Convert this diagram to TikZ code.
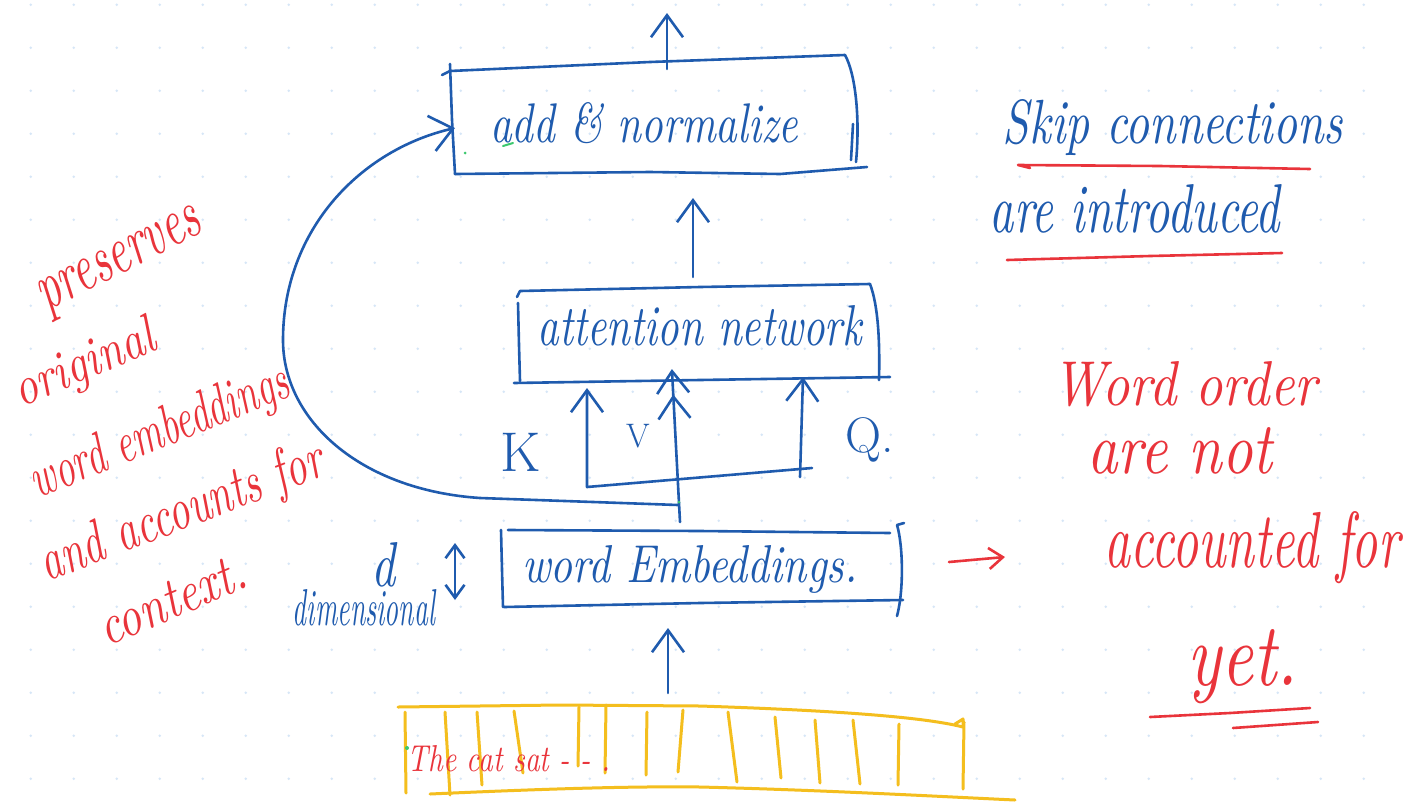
\documentclass[tikz,border=0pt]{standalone}
\usepackage{graphicx}
\usetikzlibrary{arrows.meta}

\definecolor{inkblue}{HTML}{1F5BAE}
\definecolor{inkred}{HTML}{E9343B}
\definecolor{inkyellow}{HTML}{F4BE1E}
\definecolor{inkgreen}{HTML}{3CC86E}
\definecolor{griddot}{HTML}{D6E6F7}

% handwritten-looking text stretched to a given width and ascender height
\newcommand{\hw}[3]{\resizebox{#1pt}{#2pt}{\itshape #3}}

\tikzset{
  pen/.style={line width=2.6pt, line cap=round, line join=round},
  bluepen/.style={pen, draw=inkblue},
  redpen/.style={pen, draw=inkred},
  tapepen/.style={pen, draw=inkyellow, line width=3pt},
  arr/.style={-{Straight Barb[length=22pt,width=32pt]}},
  arrV/.style={-{Straight Barb[length=22pt,width=32pt]Straight Barb[length=22pt,width=32pt,sep=-21pt]}},
  arrS/.style={-{Straight Barb[length=22pt,width=36pt]}},
  arrD/.style={{Straight Barb[length=13pt,width=19pt]}-{Straight Barb[length=13pt,width=19pt]}},
  arrR/.style={-{Straight Barb[length=14pt,width=21pt]}},
  hwtext/.style={inner sep=0pt, anchor=base},
  bluetext/.style={hwtext, text=inkblue},
  redtext/.style={hwtext, text=inkred},
}

\begin{document}
\begin{tikzpicture}[x=1pt,y=-1pt]
\useasboundingbox (0,0) rectangle (1405,801);
\fill[white] (0,0) rectangle (1405,801);

% dotted paper
\foreach \i in {0,...,32}
  \foreach \j in {0,...,18}
    \fill[griddot] ({30.7+43*\i},{4.7+43*\j}) circle (1.4);

% ---------- add & normalize ----------
\node[bluetext] (addnorm) at (644,142) {\hw{308}{40}{add \& normalize}};
\draw[bluepen] (442,75) -- (450,71) -- (650,62) -- (845,55);
\draw[bluepen] (450,64) -- (452,120) -- (455,174);
\draw[bluepen] (455,174) -- (650,172) -- (780,174) -- (867,167);
\draw[bluepen] (845,55) .. controls (856,75) and (860,120) .. (856,162);
\draw[bluepen] (853,124) -- (851,160);

% ---------- attention network ----------
\node[bluetext] (attn) at (700,345) {\hw{324}{40}{attention network}};
\draw[bluepen] (517,297) -- (520,291) -- (700,287) -- (870,284);
\draw[bluepen] (518,303) -- (519,345) -- (520,381);
\draw[bluepen] (514,383) -- (700,380) -- (890,377);
\draw[bluepen] (870,284) .. controls (878,305) and (880,340) .. (879,380);

% ---------- word embeddings ----------
\node[bluetext] (emb) at (690,582) {\hw{335}{37}{word Embeddings.}};
\draw[bluepen] (508,530) -- (700,531) -- (890,533);
\draw[bluepen] (501,530) -- (502,570) -- (503,607);
\draw[bluepen] (504,607) -- (700,603) -- (903,600);
\draw[bluepen] (904,523) -- (897,525) .. controls (903,545) and (904,590) .. (897,616);

% ---------- connectors ----------
\coordinate (a-top) at (667,69);
\coordinate (a-out) at (667,13);
\draw[bluepen,arr] (a-top) -- (a-out);

\coordinate (b-top) at (693,277);
\coordinate (a-bot) at (693,198);
\draw[bluepen,arr] (b-top) -- (a-bot);

\coordinate (k-foot) at (587,487);
\coordinate (k-in) at (587,388);
\coordinate (q-foot) at (812,468);
\draw[bluepen,arr] (q-foot) -- (k-foot) -- (k-in);

\coordinate (c-top) at (680,522);
\coordinate (v-in) at (673,390);
\draw[bluepen,arrV] (c-top) -- (v-in);

\coordinate (q-base) at (800,477);
\coordinate (q-in) at (803,377);
\draw[bluepen,arr] (q-base) -- (q-in);

% skip connection
\coordinate (skip-from) at (678,505);
\coordinate (a-left) at (455,128);
\draw[bluepen,arrS] (skip-from) -- (480,498)
  .. controls (360,490) and (283,420) .. (283,340)
  .. controls (283,230) and (360,150) .. (a-left);

\coordinate (tape-top) at (668,693);
\coordinate (c-bot) at (668,628);
\draw[bluepen,arr] (tape-top) -- (c-bot);

% d dimensional
\coordinate (d-up) at (455,543);
\coordinate (d-down) at (455,600);
\draw[bluepen,arrD] (d-up) -- (d-down);
\node[bluetext] (dlab) at (383,586) {\hw{24}{44}{d}};
\node[bluetext] (dimlab) at (364,625) {\hw{142}{36}{dimensional}};

% K V Q labels
\node[bluetext,font=\fontsize{56}{60}\selectfont] (klab) at (521,471) {K};
\node[bluetext,font=\fontsize{34}{40}\selectfont] (vlab) at (638,447) {V};
\node[bluetext,font=\fontsize{50}{56}\selectfont] (qlab) at (870,452) {Q.};

% ---------- token tape ----------
\draw[tapepen] (398,707) -- (560,705) -- (700,706) .. controls (820,710) and (920,716) .. (963,727);
\draw[tapepen] (955,724) -- (963,719) -- (963,727);
\draw[tapepen] (430,794) .. controls (520,790) and (620,786) .. (700,787) .. controls (820,790) and (930,796) .. (1015,800);
\foreach \xa/\ya/\xb/\yb in {405/712/406/793, 445/712/450/795, 477/712/482/785, 514/711/523/773,
  579/707/578/766, 606/705/605/773, 647/712/646/775, 683/710/678/772, 728/712/737/782,
  775/717/781/778, 815/720/820/783, 853/720/860/784, 899/724/898/785, 964/722/963/789}
  \draw[tapepen] (\xa,\ya) -- (\xb,\yb);
\node[redtext] (tokens) at (509,771) {\hw{202}{26}{The cat sat - - .}};

% ---------- side notes ----------
\node[bluetext] (skip1) at (1173,143) {\hw{340}{44}{Skip connections}};
\node[bluetext] (skip2) at (1135,232) {\hw{290}{48}{are introduced}};
\draw[redpen] (1030,168) -- (1018,165) -- (1160,166) -- (1310,169);
\draw[redpen] (1007,260) -- (1150,256) -- (1282,253);

\node[redtext] (wo1) at (1185,405) {\hw{264}{44}{Word order}};
\node[redtext] (wo2) at (1180,473) {\hw{185}{46}{are not}};
\node[redtext] (wo3) at (1252,567) {\hw{295}{56}{accounted for}};
\node[redtext] (wo4) at (1243,685) {\hw{110}{56}{yet.}};
\draw[redpen] (1150,717) -- (1230,713) -- (1310,708);
\draw[redpen] (1233,728) -- (1318,722);
\coordinate (r-from) at (949,562);
\coordinate (r-to) at (1005,557);
\draw[redpen,arrR] (r-from) -- (r-to);

\node[redtext,anchor=center,rotate=27] (n1) at (122,264) {\hw{178}{30}{preserves}};
\node[redtext,anchor=center,rotate=23] (n2) at (85,366) {\hw{150}{38}{original}};
\node[redtext,anchor=center,rotate=22] (n3) at (160,434) {\hw{275}{40}{word embeddings}};
\node[redtext,anchor=center,rotate=21] (n4) at (182,514) {\hw{300}{42}{and accounts for}};
\node[redtext,anchor=center,rotate=23] (n5) at (172,600) {\hw{155}{36}{context.}};

% stray pen marks
\fill[inkgreen] (407,748) circle (2);
\fill[inkgreen] (465,153) circle (1.5);
\fill[inkgreen] (679,502) circle (1.5);
\draw[inkgreen,line width=2pt,line cap=round] (503,146) -- (513,143);
\end{tikzpicture}
\end{document}
